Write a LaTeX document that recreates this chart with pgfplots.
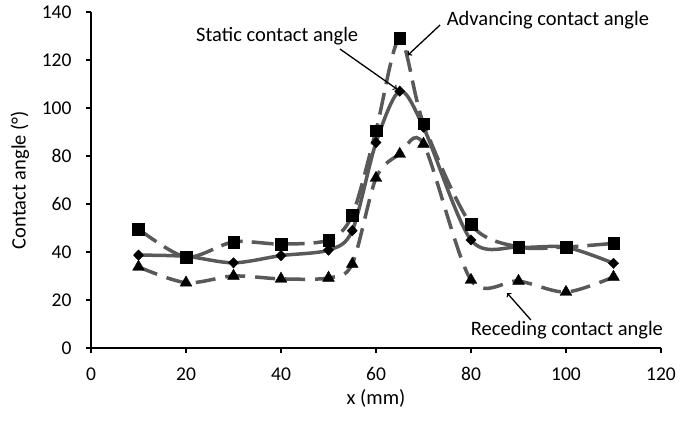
\documentclass[border=0pt]{standalone}
\usepackage{pgfplots}
\pgfplotsset{compat=1.18}
\usepackage{fontspec}
\setmainfont{Carlito}
\definecolor{lgray}{RGB}{89,89,89}
\begin{document}
\fontsize{19bp}{23bp}\selectfont
\begin{tikzpicture}
\useasboundingbox (-91bp,-76bp) rectangle (595bp,348bp);
\begin{axis}[
  at={(0,0)}, anchor=south west,
  scale only axis, width=570bp, height=336bp,
  xmin=0, xmax=120, ymin=0, ymax=140,
  xtick={0,20,...,120}, ytick={0,20,...,140},
  axis lines*=left,
  axis line style={line width=1.2pt, black},
  tick style={line width=1.2pt, black},
  tick align=outside, major tick length=5bp,
  /pgf/number format/assume math mode=true,
  ticklabel style={font=\fontsize{19.5bp}{23bp}\selectfont},
  xticklabel style={anchor=north, yshift=-8bp},
  yticklabel style={anchor=east, xshift=-8bp},
  label style={font=\fontsize{20.5bp}{24bp}\selectfont},
  xlabel={x (mm)}, ylabel={Contact angle (°)},
  xlabel style={at={(axis description cs:0.5,-0.149)}, anchor=center},
  ylabel style={at={(axis description cs:-0.1246,0.5)}, anchor=center},
  clip=false,
]
% Advancing
\addplot[lgray, line width=3.5bp, smooth, tension=0.5, dash pattern=on 22bp off 9bp,
  mark=square*, mark size=5.8bp, mark options={solid, fill=black, draw=black, line width=0.4pt}]
  coordinates {(10,49.6)(20,37.9)(30,44.2)(40,43.3)(50,45)(55,55.4)(60,90.6)(65,129)(70,93.5)(80,51.5)(90,42.1)(100,42.1)(110,43.6)};
% Static
\addplot[lgray, line width=3.5bp, smooth, tension=0.5,
  mark=diamond*, mark size=5.2bp, mark options={solid, fill=black, draw=black, line width=0.4pt, xscale=1.3}]
  coordinates {(10,38.7)(20,38.2)(30,35.5)(40,38.5)(50,40.8)(55,48.9)(60,85.6)(65,107)(70,92)(80,45)(90,42)(100,42)(110,35.3)};
% Receding
\addplot[lgray, line width=3.5bp, smooth, tension=0.5, dash pattern=on 20bp off 10bp,
  mark=triangle*, mark size=6.8bp, mark options={solid, fill=black, draw=black, line width=0.4pt}]
  coordinates {(10,33.8)(20,27.2)(30,30)(40,28.8)(50,29.2)(55,35)(60,70.8)(65,80.8)(70,85)(80,28.3)(90,27.9)(100,23.3)(110,29.6)};
% annotations
\node[anchor=center, font=\fontsize{20.5bp}{24bp}\selectfont] at (axis cs:39.2,130) {Static contact angle};
\draw[->, line width=1.3bp] (axis cs:52.4,124.6) -- (axis cs:64.4,107.9);
\node[anchor=center, font=\fontsize{20.5bp}{24bp}\selectfont] at (axis cs:96.2,136.7) {Advancing contact angle};
\draw[->, line width=1.3bp] (axis cs:73.5,134.6) -- (axis cs:66.7,122);
\node[anchor=center, font=\fontsize{20.5bp}{24bp}\selectfont] at (axis cs:100.2,7.5) {Receding contact angle};
\draw[->, line width=1.3bp] (axis cs:92.6,11.7) -- (axis cs:87.6,22.9);
\end{axis}
\end{tikzpicture}
\end{document}
